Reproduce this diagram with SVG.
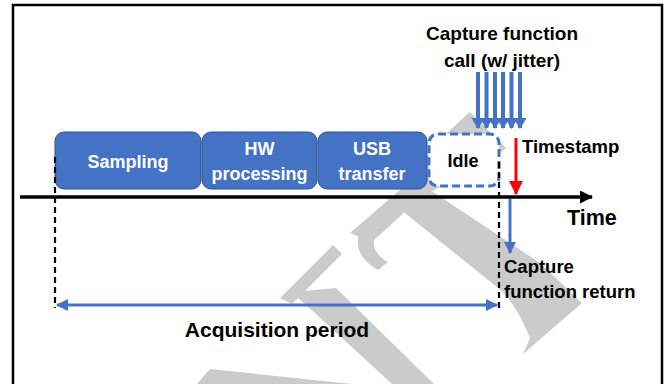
<svg xmlns="http://www.w3.org/2000/svg" width="670" height="384" viewBox="0 0 670 384">
  <defs>
    <style>
      .t { font-family: "Liberation Sans", Arial, sans-serif; font-weight: bold; }
      .w { fill: #ffffff; font-size: 18px; }
      .k { fill: #000000; }
      .box { fill: #4472C4; stroke: #2F528F; stroke-width: 1; }
      .wm { fill: #cbcbcb; }
      .blue { stroke: #4472C4; stroke-width: 3; fill: none; }
      .jit { stroke: #4472C4; stroke-width: 4; fill: none; }
      .dash { stroke: #000; stroke-width: 2.2; stroke-dasharray: 6 4; fill: none; }
    </style>
    <marker id="hb" markerUnits="userSpaceOnUse" markerWidth="14" markerHeight="14" refX="11" refY="6" orient="auto-start-reverse">
      <path d="M0,0 L12,6 L0,12 Z" fill="#4472C4"/>
    </marker>
    <marker id="hj" markerUnits="userSpaceOnUse" markerWidth="14" markerHeight="14" refX="10" refY="6.5" orient="auto">
      <path d="M0,0 L11,6.5 L0,13 Z" fill="#4472C4"/>
    </marker>
    <marker id="hr" markerUnits="userSpaceOnUse" markerWidth="16" markerHeight="16" refX="13" refY="7" orient="auto">
      <path d="M0,0 L14,7 L0,14 Z" fill="#FF0000"/>
    </marker>
    <marker id="hk" markerUnits="userSpaceOnUse" markerWidth="16" markerHeight="16" refX="12" refY="6.5" orient="auto">
      <path d="M0,0 L13,6.5 L0,13 Z" fill="#000"/>
    </marker>
  </defs>

  <rect x="0" y="0" width="670" height="384" fill="#ffffff"/>

  <g id="watermark">
    <polygon class="wm" points="470,112 506,148 496,156 420,198 372,242 350,233 400,190 449,131"/>
    <path class="wm" d="M378,270 C352,255 350,232 378,214 L388,220 C368,236 370,252 388,262 Z"/>
    <polygon class="wm" points="280,298 292,304 342,254 333,245"/>
    <polygon class="wm" points="292,292 336,288 434,384 392,384"/>
    <polygon class="wm" points="197,384 210,369 352,384"/>
    <path class="wm" d="M385,197 L433,192 L540,263 L582,303 L523,354 L530,338 C522,318 512,302 503,292 L467,263 Z"/>
  </g>

  <rect id="frame" x="13" y="5" width="649" height="400" fill="none" stroke="#000" stroke-width="2.5"/>

  <g id="sampling">
    <rect class="box" x="55" y="132" width="146" height="57" rx="9"/>
    <text class="t w" x="128" y="168" text-anchor="middle">Sampling</text>
  </g>
  <g id="hw-processing">
    <rect class="box" x="202" y="132" width="115" height="57" rx="9"/>
    <text class="t w" x="259.5" y="155" text-anchor="middle">HW</text>
    <text class="t w" x="259.5" y="180" text-anchor="middle">processing</text>
  </g>
  <g id="usb-transfer">
    <rect class="box" x="318" y="132" width="109" height="57" rx="9"/>
    <text class="t w" x="372" y="155" text-anchor="middle">USB</text>
    <text class="t w" x="372" y="180" text-anchor="middle">transfer</text>
  </g>
  <g id="idle">
    <rect x="429" y="134" width="70" height="52" rx="9" fill="#ffffff" stroke="#4472C4" stroke-width="3" stroke-dasharray="8 4"/>
    <text class="t k" x="463" y="167" font-size="18" text-anchor="middle">Idle</text>
  </g>

  <g id="labels">
    <text class="t k" x="502" y="40" font-size="19" text-anchor="middle">Capture function</text>
    <text class="t k" x="502" y="67" font-size="19" text-anchor="middle">call (w/ jitter)</text>
    <text class="t k" x="522" y="153" font-size="18.5">Timestamp</text>
    <text class="t k" x="567" y="225" font-size="21.5">Time</text>
    <text class="t k" x="504" y="273" font-size="18.5">Capture</text>
    <text class="t k" x="504" y="298" font-size="18.5">function return</text>
    <text class="t k" x="277" y="337" font-size="21" text-anchor="middle">Acquisition period</text>
  </g>

  <g id="connectors">
    <line x1="20" y1="197" x2="592" y2="197" stroke="#000" stroke-width="3.5" marker-end="url(#hk)"/>
    <line class="dash" x1="55" y1="157" x2="55" y2="308"/>
    <line class="dash" x1="499" y1="162" x2="499" y2="309"/>
    <line class="blue" x1="57" y1="305" x2="497" y2="305" marker-start="url(#hb)" marker-end="url(#hb)"/>
    <line x1="516" y1="138" x2="516" y2="194" stroke="#FF0000" stroke-width="3" marker-end="url(#hr)"/>
    <line class="blue" x1="510" y1="199" x2="510" y2="253" marker-end="url(#hb)"/>
    <g id="jitter-arrows">
      <line class="jit" x1="478" y1="72" x2="478" y2="128" marker-end="url(#hj)"/>
      <line class="jit" x1="486.5" y1="72" x2="486.5" y2="128" marker-end="url(#hj)"/>
      <line class="jit" x1="495" y1="72" x2="495" y2="128" marker-end="url(#hj)"/>
      <line class="jit" x1="503" y1="72" x2="503" y2="128" marker-end="url(#hj)"/>
      <line class="jit" x1="511.5" y1="72" x2="511.5" y2="128" marker-end="url(#hj)"/>
      <line class="jit" x1="520" y1="72" x2="520" y2="128" marker-end="url(#hj)"/>
    </g>
  </g>
</svg>
